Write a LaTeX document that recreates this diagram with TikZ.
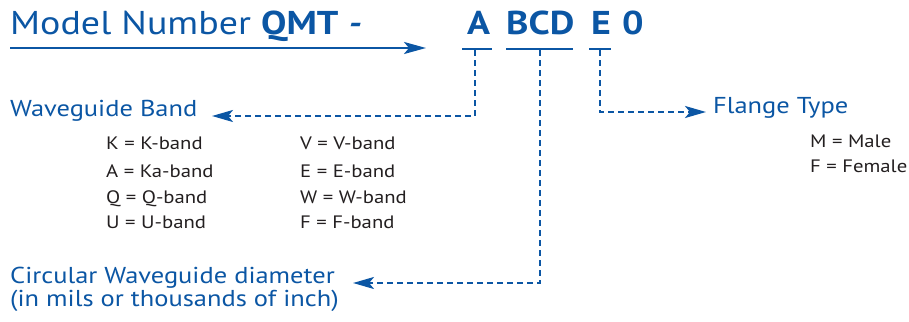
\documentclass[tikz,border=0pt]{standalone}
\usepackage{fontspec}
\setmainfont[FakeStretch=1.15]{PT Sans}
\usepackage{tikz}
\usetikzlibrary{arrows.meta}
\usepackage{xcolor}
\definecolor{qblue}{HTML}{0B56A4}
\definecolor{qtext}{HTML}{231F20}

\tikzset{
  head/.style={font=\fontsize{33}{38}\selectfont, text=qblue, inner sep=0pt, anchor=base west},
  code/.style={font=\fontsize{33}{38}\selectfont\bfseries, text=qblue, inner sep=0pt, anchor=base west},
  group/.style={font=\fontsize{23}{27}\selectfont, text=qblue, inner sep=0pt, anchor=base west},
  entry/.style={font=\fontsize{18}{22}\selectfont, text=qtext, inner sep=0pt, anchor=base west},
  underbar/.style={qblue, line width=2.4pt},
  lead/.style={qblue, line width=2.4pt, dash pattern=on 6pt off 4pt,
    -{Stealth[length=21pt, width=12pt, inset=5pt]}},
}

\begin{document}
\begin{tikzpicture}[x=1pt, y=-1pt]
  \useasboundingbox (0,0) rectangle (909,321);

  % model number line
  \node[head] (title) at (10,35) {Model Number \textbf{QMT} \textbf{\textit{-}}};
  \coordinate (start) at (10,48);
  \coordinate (tip) at (426,48);
  \draw[qblue, line width=2.4pt, -{Stealth[length=22pt, width=12pt, inset=5pt]}] (start) -- (tip);

  \node[code] (codeA) at (467,35) {A};
  \node[code] (codeBCD) at (506,35) {BCD};
  \node[code] (codeE) at (591,35) {E};
  \node[code] (codeZero) at (622,35) {0};

  % brackets under the code
  \draw[underbar] (462,49) -- (492,49);
  \draw[underbar] (506,49) -- (573,49);
  \draw[underbar] (589,49) -- (611,49);

  % groups
  \node[group] (band) at (10,116) {Waveguide Band};
  \node[group] (flange) at (713,113) {Flange Type};
  \node[group] (dia) at (10,283) {Circular Waveguide diameter};
  \node[group] (diaNote) at (10,306) {(in mils or thousands of inch)};

  \node[entry] (k) at (106,149) {K = K-band};
  \node[entry] (a) at (106,177) {A = Ka-band};
  \node[entry] (q) at (106,203) {Q = Q-band};
  \node[entry] (u) at (106,228) {U = U-band};
  \node[entry] (v) at (300,149) {V = V-band};
  \node[entry] (e) at (300,177) {E = E-band};
  \node[entry] (w) at (300,203) {W = W-band};
  \node[entry] (f) at (300,228) {F = F-band};

  \node[entry] (male) at (810,147) {M = Male};
  \node[entry] (female) at (810,172) {F = Female};

  % leaders
  \coordinate (bandTip) at (212,116);
  \coordinate (diaTip) at (353,283);
  \coordinate (flangeTip) at (706,112);
  \draw[lead] (475,50) |- (bandTip);
  \draw[lead] (540,50) |- (diaTip);
  \draw[lead] (600,50) |- (flangeTip);
\end{tikzpicture}
\end{document}
